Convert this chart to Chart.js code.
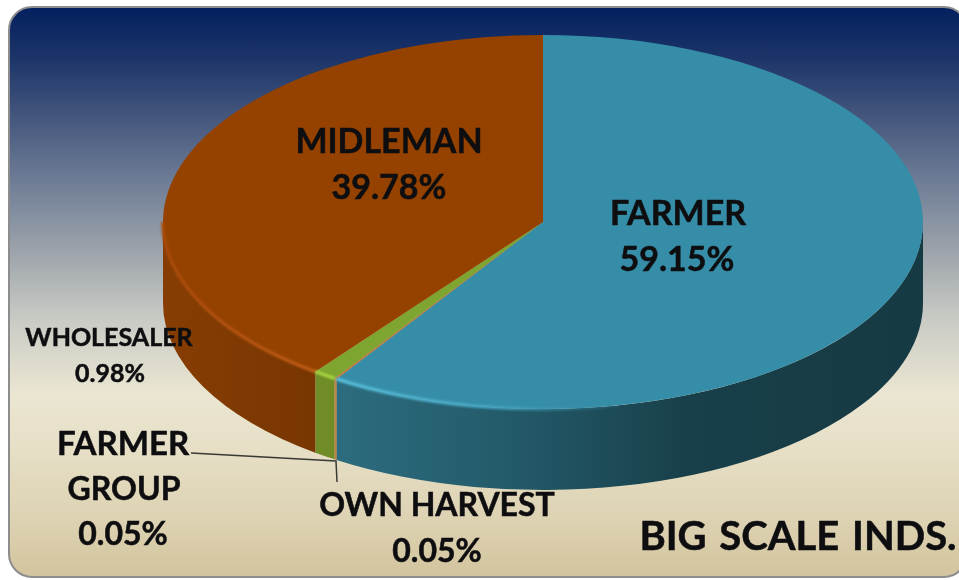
<!DOCTYPE html>
<html>
<head>
<meta charset="utf-8">
<script src="https://cdn.jsdelivr.net/npm/chart.js@4"></script>
<style>
html,body{margin:0;padding:0;background:#fff;width:959px;height:580px;overflow:hidden}
#panel{position:absolute;left:8px;top:6px;width:960px;height:572px;box-sizing:border-box;border:2px solid #8d8d8d;border-radius:24px;
background:linear-gradient(to bottom,#03205f 0%,#1d3569 9%,#47597f 20%,#6c7b95 30%,#a1a7ad 44%,#c9cbc5 55%,#ebe6d2 68%,#e6dfc6 78%,#ddd2b2 90%,#d2c49e 100%)}
canvas{position:absolute;left:0;top:0}
</style>
</head>
<body>
<div id="panel"></div>
<canvas id="c" width="959" height="580"></canvas>
<script>
const categories = ["FARMER","OWN HARVEST","FARMER GROUP","WHOLESALER","MIDLEMAN"];
const shares = [59.15,0.05,0.05,0.98,39.78];
const topColors = ["#368da7","#b5651d","#b5651d","#7da52f","#954200"];
const chartTitle = "BIG SCALE INDS.";

const squash = 187/380, depth = 81;

function pct(i){ return shares[i].toFixed(2)+"%"; }

const wallFill = {
  0:(c)=>{const g=c.createLinearGradient(338,0,923,0);g.addColorStop(0,"#2c6c7e");g.addColorStop(.3,"#235a69");g.addColorStop(.6,"#183f4a");g.addColorStop(1,"#163a43");return g;},
  1:()=> "#b5651d", 2:()=> "#b5651d", 3:()=> "#6f8c27",
  4:(c)=>{const g=c.createLinearGradient(163,0,316,0);g.addColorStop(0,"#873d02");g.addColorStop(.5,"#7f3a03");g.addColorStop(1,"#783601");return g;}
};

const pie3d = {
  id:"pie3d",
  beforeDatasetsDraw(chart){
    const c=chart.ctx, arcs=chart.getDatasetMeta(0).data;
    arcs.forEach((a,i)=>{
      const a0=Math.max(a.startAngle,0), a1=Math.min(a.endAngle,Math.PI);
      if(a1<=a0) return;
      const ry=a.outerRadius*squash;
      c.beginPath();
      c.ellipse(a.x,a.y,a.outerRadius,ry,0,a0,a1,false);
      c.ellipse(a.x,a.y+depth,a.outerRadius,ry,0,a1,a0,true);
      c.closePath();
      c.fillStyle=wallFill[i](c);
      c.fill();
    });
    c.save();
    const y=arcs[0].y;
    c.translate(0,y); c.scale(1,squash); c.translate(0,-y);
  },
  afterDatasetsDraw(chart){
    const c=chart.ctx, arcs=chart.getDatasetMeta(0).data;
    c.restore();
    const rim=(a,a0,a1,style,w)=>{
      c.beginPath();
      c.ellipse(a.x,a.y,a.outerRadius,a.outerRadius*squash,0,a0,a1,false);
      c.strokeStyle=style;c.lineWidth=w;c.stroke();
    };
    // lit front rims, softened
    c.save();
    c.filter="blur(1px)";
    const gb=c.createLinearGradient(338,0,640,0);
    gb.addColorStop(0,"#57bcd9");gb.addColorStop(.5,"#44a3bf");gb.addColorStop(1,"rgba(54,141,167,0)");
    rim(arcs[0],Math.PI/2-.2,arcs[0].endAngle,gb,3.5);
    const go=c.createLinearGradient(163,0,316,0);
    go.addColorStop(0,"#a84a08");go.addColorStop(1,"#bd5b16");
    rim(arcs[4],arcs[4].startAngle,Math.PI,go,3.5);
    rim(arcs[3],arcs[3].startAngle,arcs[3].endAngle,"#a6d33c",3.5);
    c.restore();
    // leader lines
    c.strokeStyle="#3a3a35";c.lineWidth=1.5;
    c.beginPath();c.moveTo(191,453);c.lineTo(336,461);c.lineTo(337,482);c.stroke();
  },
  afterDraw(chart){
    const c=chart.ctx, t=(s,x,y,size)=>{c.font="bold "+size+"px Lato";c.lineWidth=.5;c.strokeText(s,x,y);c.fillText(s,x,y);};
    c.save();c.fillStyle="#0e0e10";c.strokeStyle="#0e0e10";c.textAlign="center";c.textBaseline="middle";
    c.filter="blur(0.4px)";
    t(categories[4],389,142,34);t(pct(4),389,188,34);
    t(categories[0],678,214,34);t(pct(0),677,260,34);
    t(categories[3],109,338,25);t(pct(3),110,374,25);
    t("FARMER",123,444,33);t("GROUP",124,490,32);t(pct(2),123,535,32);
    t(categories[1],437,506,32);t(pct(1),437,552,32);
    c.wordSpacing="3px";
    t(chartTitle,798,537,40);
    c.restore();
  }
};

new Chart(document.getElementById("c"),{
  type:"pie",
  data:{labels:categories,datasets:[{data:shares,backgroundColor:topColors,borderWidth:0,clip:false}]},
  options:{
    responsive:false,animation:false,
    radius:380,
    layout:{padding:{left:127,bottom:136,top:0,right:0}},
    plugins:{legend:{display:false},tooltip:{enabled:false},title:{display:false}}
  },
  plugins:[pie3d]
});
</script>
</body>
</html>
